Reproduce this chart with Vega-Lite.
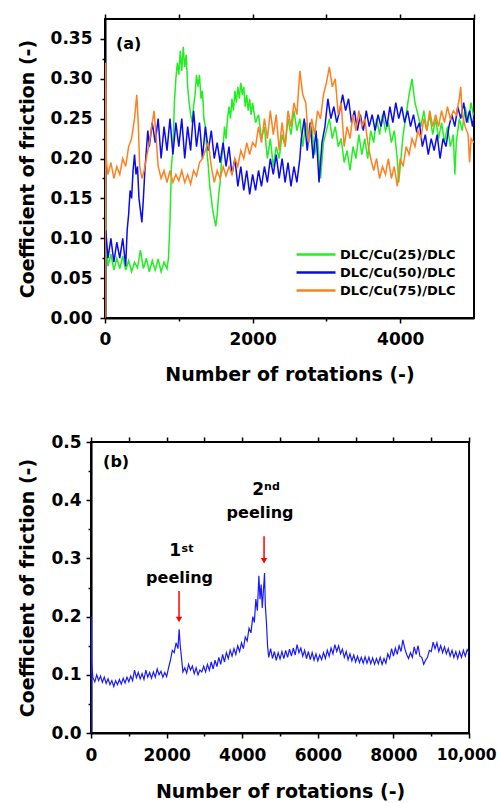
{
"$schema": "https://vega.github.io/schema/vega-lite/v6.json",
"padding": {"left": 17, "top": 12, "right": 0, "bottom": 0},
"config": {
 "font": "DejaVu Sans",
 "view": {"stroke": "#000", "strokeWidth": 2},
 "axis": {"grid": false, "domainColor": "#000", "domainWidth": 2, "tickColor": "#000", "tickWidth": 1.5, "labelColor": "#000", "titleColor": "#000", "labelFont": "DejaVu Sans", "titleFont": "DejaVu Sans", "labelFontSize": 17, "labelFontWeight": "bold", "titleFontSize": 19, "titleFontWeight": "bold", "labelFlush": false, "labelOverlap": false, "labelBound": false}
},
"datasets": {
 "a": [
{"s":"25","x":0,"y":0.23},{"s":"25","x":10,"y":0.1},{"s":"25","x":40,"y":0.065},{"s":"25","x":80,"y":0.08},{"s":"25","x":120,"y":0.06},{"s":"25","x":160,"y":0.075},{"s":"25","x":200,"y":0.062},{"s":"25","x":240,"y":0.078},{"s":"25","x":280,"y":0.06},{"s":"25","x":320,"y":0.072},{"s":"25","x":360,"y":0.058},{"s":"25","x":400,"y":0.07},{"s":"25","x":440,"y":0.063},{"s":"25","x":480,"y":0.085},{"s":"25","x":520,"y":0.062},{"s":"25","x":560,"y":0.075},{"s":"25","x":600,"y":0.058},{"s":"25","x":640,"y":0.072},{"s":"25","x":680,"y":0.06},{"s":"25","x":720,"y":0.074},{"s":"25","x":760,"y":0.058},{"s":"25","x":800,"y":0.07},{"s":"25","x":840,"y":0.062},{"s":"25","x":860,"y":0.075},{"s":"25","x":880,"y":0.12},{"s":"25","x":900,"y":0.19},{"s":"25","x":920,"y":0.21},{"s":"25","x":940,"y":0.27},{"s":"25","x":960,"y":0.3},{"s":"25","x":980,"y":0.32},{"s":"25","x":1000,"y":0.305},{"s":"25","x":1020,"y":0.335},{"s":"25","x":1040,"y":0.31},{"s":"25","x":1060,"y":0.34},{"s":"25","x":1080,"y":0.315},{"s":"25","x":1100,"y":0.33},{"s":"25","x":1120,"y":0.29},{"s":"25","x":1140,"y":0.27},{"s":"25","x":1160,"y":0.255},{"s":"25","x":1180,"y":0.245},{"s":"25","x":1200,"y":0.265},{"s":"25","x":1220,"y":0.28},{"s":"25","x":1240,"y":0.305},{"s":"25","x":1260,"y":0.29},{"s":"25","x":1280,"y":0.305},{"s":"25","x":1300,"y":0.275},{"s":"25","x":1320,"y":0.285},{"s":"25","x":1340,"y":0.25},{"s":"25","x":1360,"y":0.24},{"s":"25","x":1380,"y":0.21},{"s":"25","x":1400,"y":0.19},{"s":"25","x":1420,"y":0.165},{"s":"25","x":1440,"y":0.15},{"s":"25","x":1460,"y":0.135},{"s":"25","x":1480,"y":0.125},{"s":"25","x":1500,"y":0.115},{"s":"25","x":1520,"y":0.13},{"s":"25","x":1540,"y":0.155},{"s":"25","x":1560,"y":0.17},{"s":"25","x":1580,"y":0.2},{"s":"25","x":1600,"y":0.215},{"s":"25","x":1620,"y":0.24},{"s":"25","x":1640,"y":0.225},{"s":"25","x":1660,"y":0.25},{"s":"25","x":1680,"y":0.265},{"s":"25","x":1700,"y":0.25},{"s":"25","x":1720,"y":0.275},{"s":"25","x":1740,"y":0.26},{"s":"25","x":1760,"y":0.285},{"s":"25","x":1780,"y":0.27},{"s":"25","x":1800,"y":0.29},{"s":"25","x":1820,"y":0.275},{"s":"25","x":1840,"y":0.295},{"s":"25","x":1860,"y":0.28},{"s":"25","x":1880,"y":0.29},{"s":"25","x":1900,"y":0.265},{"s":"25","x":1920,"y":0.28},{"s":"25","x":1940,"y":0.26},{"s":"25","x":1960,"y":0.275},{"s":"25","x":1980,"y":0.255},{"s":"25","x":2000,"y":0.27},{"s":"25","x":2040,"y":0.245},{"s":"25","x":2080,"y":0.255},{"s":"25","x":2120,"y":0.225},{"s":"25","x":2160,"y":0.24},{"s":"25","x":2200,"y":0.2},{"s":"25","x":2240,"y":0.225},{"s":"25","x":2280,"y":0.19},{"s":"25","x":2320,"y":0.215},{"s":"25","x":2360,"y":0.2},{"s":"25","x":2400,"y":0.23},{"s":"25","x":2440,"y":0.215},{"s":"25","x":2480,"y":0.25},{"s":"25","x":2520,"y":0.23},{"s":"25","x":2560,"y":0.26},{"s":"25","x":2600,"y":0.235},{"s":"25","x":2640,"y":0.25},{"s":"25","x":2680,"y":0.215},{"s":"25","x":2720,"y":0.245},{"s":"25","x":2760,"y":0.22},{"s":"25","x":2800,"y":0.24},{"s":"25","x":2840,"y":0.205},{"s":"25","x":2880,"y":0.225},{"s":"25","x":2920,"y":0.175},{"s":"25","x":2960,"y":0.22},{"s":"25","x":3000,"y":0.235},{"s":"25","x":3040,"y":0.25},{"s":"25","x":3080,"y":0.225},{"s":"25","x":3120,"y":0.24},{"s":"25","x":3160,"y":0.215},{"s":"25","x":3200,"y":0.225},{"s":"25","x":3240,"y":0.195},{"s":"25","x":3280,"y":0.21},{"s":"25","x":3320,"y":0.185},{"s":"25","x":3360,"y":0.215},{"s":"25","x":3400,"y":0.2},{"s":"25","x":3440,"y":0.23},{"s":"25","x":3480,"y":0.205},{"s":"25","x":3520,"y":0.225},{"s":"25","x":3560,"y":0.2},{"s":"25","x":3600,"y":0.235},{"s":"25","x":3640,"y":0.22},{"s":"25","x":3680,"y":0.25},{"s":"25","x":3720,"y":0.23},{"s":"25","x":3760,"y":0.255},{"s":"25","x":3800,"y":0.235},{"s":"25","x":3840,"y":0.245},{"s":"25","x":3880,"y":0.22},{"s":"25","x":3920,"y":0.235},{"s":"25","x":3960,"y":0.2},{"s":"25","x":3980,"y":0.17},{"s":"25","x":4000,"y":0.19},{"s":"25","x":4040,"y":0.23},{"s":"25","x":4080,"y":0.255},{"s":"25","x":4120,"y":0.28},{"s":"25","x":4160,"y":0.3},{"s":"25","x":4200,"y":0.27},{"s":"25","x":4240,"y":0.255},{"s":"25","x":4280,"y":0.24},{"s":"25","x":4320,"y":0.26},{"s":"25","x":4360,"y":0.235},{"s":"25","x":4400,"y":0.255},{"s":"25","x":4440,"y":0.23},{"s":"25","x":4480,"y":0.25},{"s":"25","x":4520,"y":0.225},{"s":"25","x":4560,"y":0.245},{"s":"25","x":4600,"y":0.22},{"s":"25","x":4640,"y":0.24},{"s":"25","x":4680,"y":0.215},{"s":"25","x":4720,"y":0.23},{"s":"25","x":4740,"y":0.18},{"s":"25","x":4760,"y":0.22},{"s":"25","x":4800,"y":0.25},{"s":"25","x":4840,"y":0.235},{"s":"25","x":4880,"y":0.265},{"s":"25","x":4920,"y":0.245},{"s":"25","x":4960,"y":0.27},{"s":"25","x":5000,"y":0.25},
{"s":"50","x":0,"y":0.06},{"s":"50","x":10,"y":0.11},{"s":"50","x":40,"y":0.075},{"s":"50","x":80,"y":0.1},{"s":"50","x":120,"y":0.07},{"s":"50","x":160,"y":0.095},{"s":"50","x":200,"y":0.075},{"s":"50","x":240,"y":0.1},{"s":"50","x":280,"y":0.065},{"s":"50","x":300,"y":0.11},{"s":"50","x":320,"y":0.13},{"s":"50","x":340,"y":0.16},{"s":"50","x":360,"y":0.15},{"s":"50","x":380,"y":0.185},{"s":"50","x":400,"y":0.205},{"s":"50","x":420,"y":0.18},{"s":"50","x":440,"y":0.19},{"s":"50","x":460,"y":0.15},{"s":"50","x":480,"y":0.135},{"s":"50","x":500,"y":0.12},{"s":"50","x":520,"y":0.15},{"s":"50","x":540,"y":0.185},{"s":"50","x":560,"y":0.21},{"s":"50","x":580,"y":0.235},{"s":"50","x":600,"y":0.215},{"s":"50","x":640,"y":0.245},{"s":"50","x":680,"y":0.22},{"s":"50","x":720,"y":0.25},{"s":"50","x":760,"y":0.2},{"s":"50","x":800,"y":0.24},{"s":"50","x":840,"y":0.21},{"s":"50","x":880,"y":0.25},{"s":"50","x":920,"y":0.205},{"s":"50","x":960,"y":0.245},{"s":"50","x":1000,"y":0.215},{"s":"50","x":1040,"y":0.25},{"s":"50","x":1080,"y":0.2},{"s":"50","x":1120,"y":0.24},{"s":"50","x":1160,"y":0.21},{"s":"50","x":1200,"y":0.26},{"s":"50","x":1240,"y":0.215},{"s":"50","x":1280,"y":0.245},{"s":"50","x":1320,"y":0.2},{"s":"50","x":1360,"y":0.24},{"s":"50","x":1400,"y":0.21},{"s":"50","x":1440,"y":0.235},{"s":"50","x":1480,"y":0.2},{"s":"50","x":1520,"y":0.22},{"s":"50","x":1560,"y":0.195},{"s":"50","x":1600,"y":0.22},{"s":"50","x":1640,"y":0.19},{"s":"50","x":1680,"y":0.215},{"s":"50","x":1720,"y":0.18},{"s":"50","x":1760,"y":0.2},{"s":"50","x":1800,"y":0.165},{"s":"50","x":1840,"y":0.19},{"s":"50","x":1880,"y":0.16},{"s":"50","x":1920,"y":0.185},{"s":"50","x":1960,"y":0.155},{"s":"50","x":2000,"y":0.18},{"s":"50","x":2040,"y":0.16},{"s":"50","x":2080,"y":0.185},{"s":"50","x":2120,"y":0.165},{"s":"50","x":2160,"y":0.19},{"s":"50","x":2200,"y":0.17},{"s":"50","x":2240,"y":0.2},{"s":"50","x":2280,"y":0.18},{"s":"50","x":2320,"y":0.205},{"s":"50","x":2360,"y":0.175},{"s":"50","x":2400,"y":0.2},{"s":"50","x":2440,"y":0.17},{"s":"50","x":2480,"y":0.195},{"s":"50","x":2520,"y":0.165},{"s":"50","x":2560,"y":0.19},{"s":"50","x":2600,"y":0.17},{"s":"50","x":2640,"y":0.2},{"s":"50","x":2660,"y":0.225},{"s":"50","x":2700,"y":0.25},{"s":"50","x":2740,"y":0.21},{"s":"50","x":2780,"y":0.245},{"s":"50","x":2820,"y":0.2},{"s":"50","x":2860,"y":0.235},{"s":"50","x":2900,"y":0.17},{"s":"50","x":2940,"y":0.22},{"s":"50","x":2980,"y":0.24},{"s":"50","x":3020,"y":0.275},{"s":"50","x":3060,"y":0.25},{"s":"50","x":3100,"y":0.265},{"s":"50","x":3140,"y":0.245},{"s":"50","x":3180,"y":0.26},{"s":"50","x":3220,"y":0.28},{"s":"50","x":3260,"y":0.26},{"s":"50","x":3300,"y":0.275},{"s":"50","x":3340,"y":0.245},{"s":"50","x":3380,"y":0.26},{"s":"50","x":3420,"y":0.235},{"s":"50","x":3460,"y":0.255},{"s":"50","x":3500,"y":0.235},{"s":"50","x":3540,"y":0.26},{"s":"50","x":3580,"y":0.24},{"s":"50","x":3620,"y":0.255},{"s":"50","x":3660,"y":0.235},{"s":"50","x":3700,"y":0.255},{"s":"50","x":3740,"y":0.24},{"s":"50","x":3780,"y":0.26},{"s":"50","x":3820,"y":0.24},{"s":"50","x":3860,"y":0.265},{"s":"50","x":3900,"y":0.245},{"s":"50","x":3940,"y":0.27},{"s":"50","x":3980,"y":0.25},{"s":"50","x":4020,"y":0.265},{"s":"50","x":4060,"y":0.245},{"s":"50","x":4100,"y":0.26},{"s":"50","x":4140,"y":0.24},{"s":"50","x":4180,"y":0.255},{"s":"50","x":4220,"y":0.235},{"s":"50","x":4260,"y":0.245},{"s":"50","x":4300,"y":0.215},{"s":"50","x":4340,"y":0.23},{"s":"50","x":4380,"y":0.205},{"s":"50","x":4420,"y":0.225},{"s":"50","x":4460,"y":0.21},{"s":"50","x":4500,"y":0.23},{"s":"50","x":4540,"y":0.2},{"s":"50","x":4580,"y":0.225},{"s":"50","x":4620,"y":0.215},{"s":"50","x":4660,"y":0.24},{"s":"50","x":4700,"y":0.255},{"s":"50","x":4740,"y":0.24},{"s":"50","x":4780,"y":0.265},{"s":"50","x":4820,"y":0.25},{"s":"50","x":4860,"y":0.27},{"s":"50","x":4900,"y":0.245},{"s":"50","x":4940,"y":0.26},{"s":"50","x":4980,"y":0.24},{"s":"50","x":5000,"y":0.255},
{"s":"75","x":0,"y":0.0},{"s":"75","x":5,"y":0.32},{"s":"75","x":15,"y":0.2},{"s":"75","x":40,"y":0.18},{"s":"75","x":80,"y":0.195},{"s":"75","x":120,"y":0.175},{"s":"75","x":160,"y":0.19},{"s":"75","x":200,"y":0.18},{"s":"75","x":240,"y":0.2},{"s":"75","x":280,"y":0.19},{"s":"75","x":320,"y":0.215},{"s":"75","x":360,"y":0.225},{"s":"75","x":400,"y":0.25},{"s":"75","x":430,"y":0.28},{"s":"75","x":450,"y":0.245},{"s":"75","x":470,"y":0.19},{"s":"75","x":500,"y":0.175},{"s":"75","x":530,"y":0.185},{"s":"75","x":560,"y":0.2},{"s":"75","x":600,"y":0.22},{"s":"75","x":640,"y":0.245},{"s":"75","x":665,"y":0.26},{"s":"75","x":690,"y":0.23},{"s":"75","x":720,"y":0.19},{"s":"75","x":760,"y":0.175},{"s":"75","x":800,"y":0.185},{"s":"75","x":840,"y":0.17},{"s":"75","x":880,"y":0.185},{"s":"75","x":920,"y":0.17},{"s":"75","x":960,"y":0.18},{"s":"75","x":1000,"y":0.172},{"s":"75","x":1040,"y":0.185},{"s":"75","x":1080,"y":0.17},{"s":"75","x":1120,"y":0.18},{"s":"75","x":1160,"y":0.168},{"s":"75","x":1200,"y":0.185},{"s":"75","x":1240,"y":0.178},{"s":"75","x":1280,"y":0.195},{"s":"75","x":1320,"y":0.2},{"s":"75","x":1360,"y":0.21},{"s":"75","x":1400,"y":0.22},{"s":"75","x":1440,"y":0.19},{"s":"75","x":1480,"y":0.17},{"s":"75","x":1520,"y":0.185},{"s":"75","x":1560,"y":0.175},{"s":"75","x":1600,"y":0.19},{"s":"75","x":1640,"y":0.178},{"s":"75","x":1680,"y":0.19},{"s":"75","x":1720,"y":0.18},{"s":"75","x":1760,"y":0.2},{"s":"75","x":1800,"y":0.19},{"s":"75","x":1840,"y":0.21},{"s":"75","x":1880,"y":0.2},{"s":"75","x":1920,"y":0.22},{"s":"75","x":1960,"y":0.205},{"s":"75","x":2000,"y":0.22},{"s":"75","x":2040,"y":0.215},{"s":"75","x":2080,"y":0.24},{"s":"75","x":2120,"y":0.22},{"s":"75","x":2160,"y":0.25},{"s":"75","x":2200,"y":0.225},{"s":"75","x":2240,"y":0.26},{"s":"75","x":2280,"y":0.23},{"s":"75","x":2320,"y":0.255},{"s":"75","x":2360,"y":0.21},{"s":"75","x":2400,"y":0.245},{"s":"75","x":2440,"y":0.215},{"s":"75","x":2480,"y":0.26},{"s":"75","x":2520,"y":0.24},{"s":"75","x":2560,"y":0.27},{"s":"75","x":2600,"y":0.255},{"s":"75","x":2640,"y":0.31},{"s":"75","x":2680,"y":0.28},{"s":"75","x":2720,"y":0.27},{"s":"75","x":2760,"y":0.22},{"s":"75","x":2800,"y":0.25},{"s":"75","x":2840,"y":0.23},{"s":"75","x":2880,"y":0.26},{"s":"75","x":2920,"y":0.25},{"s":"75","x":2960,"y":0.28},{"s":"75","x":3000,"y":0.295},{"s":"75","x":3040,"y":0.315},{"s":"75","x":3080,"y":0.29},{"s":"75","x":3120,"y":0.3},{"s":"75","x":3160,"y":0.255},{"s":"75","x":3200,"y":0.27},{"s":"75","x":3240,"y":0.215},{"s":"75","x":3280,"y":0.24},{"s":"75","x":3320,"y":0.225},{"s":"75","x":3360,"y":0.255},{"s":"75","x":3400,"y":0.235},{"s":"75","x":3440,"y":0.26},{"s":"75","x":3480,"y":0.24},{"s":"75","x":3520,"y":0.25},{"s":"75","x":3560,"y":0.22},{"s":"75","x":3600,"y":0.2},{"s":"75","x":3640,"y":0.185},{"s":"75","x":3680,"y":0.2},{"s":"75","x":3720,"y":0.175},{"s":"75","x":3760,"y":0.19},{"s":"75","x":3800,"y":0.18},{"s":"75","x":3840,"y":0.2},{"s":"75","x":3880,"y":0.175},{"s":"75","x":3920,"y":0.19},{"s":"75","x":3960,"y":0.165},{"s":"75","x":4000,"y":0.2},{"s":"75","x":4040,"y":0.19},{"s":"75","x":4080,"y":0.215},{"s":"75","x":4120,"y":0.205},{"s":"75","x":4160,"y":0.225},{"s":"75","x":4200,"y":0.215},{"s":"75","x":4240,"y":0.235},{"s":"75","x":4280,"y":0.225},{"s":"75","x":4320,"y":0.25},{"s":"75","x":4360,"y":0.235},{"s":"75","x":4400,"y":0.26},{"s":"75","x":4440,"y":0.24},{"s":"75","x":4480,"y":0.255},{"s":"75","x":4520,"y":0.24},{"s":"75","x":4560,"y":0.26},{"s":"75","x":4600,"y":0.245},{"s":"75","x":4640,"y":0.265},{"s":"75","x":4680,"y":0.25},{"s":"75","x":4720,"y":0.26},{"s":"75","x":4760,"y":0.255},{"s":"75","x":4800,"y":0.275},{"s":"75","x":4820,"y":0.29},{"s":"75","x":4840,"y":0.255},{"s":"75","x":4880,"y":0.24},{"s":"75","x":4920,"y":0.23},{"s":"75","x":4940,"y":0.195},{"s":"75","x":4960,"y":0.225},{"s":"75","x":5000,"y":0.22}
 ],
 "b": [
{"x":0,"y":0.0},{"x":5,"y":0.2},{"x":15,"y":0.12},{"x":50,"y":0.095},{"x":100,"y":0.088},{"x":150,"y":0.1},{"x":200,"y":0.09},{"x":250,"y":0.098},{"x":300,"y":0.087},{"x":350,"y":0.096},{"x":400,"y":0.085},{"x":450,"y":0.093},{"x":500,"y":0.083},{"x":550,"y":0.09},{"x":600,"y":0.08},{"x":650,"y":0.09},{"x":700,"y":0.083},{"x":750,"y":0.092},{"x":800,"y":0.084},{"x":850,"y":0.094},{"x":900,"y":0.086},{"x":950,"y":0.096},{"x":1000,"y":0.088},{"x":1050,"y":0.098},{"x":1100,"y":0.09},{"x":1150,"y":0.108},{"x":1200,"y":0.095},{"x":1250,"y":0.104},{"x":1300,"y":0.093},{"x":1350,"y":0.102},{"x":1400,"y":0.092},{"x":1450,"y":0.108},{"x":1500,"y":0.096},{"x":1550,"y":0.104},{"x":1600,"y":0.094},{"x":1650,"y":0.105},{"x":1700,"y":0.096},{"x":1750,"y":0.11},{"x":1800,"y":0.1},{"x":1850,"y":0.106},{"x":1900,"y":0.096},{"x":1950,"y":0.104},{"x":2000,"y":0.097},{"x":2050,"y":0.112},{"x":2100,"y":0.125},{"x":2150,"y":0.142},{"x":2200,"y":0.138},{"x":2250,"y":0.155},{"x":2300,"y":0.145},{"x":2330,"y":0.178},{"x":2360,"y":0.15},{"x":2400,"y":0.125},{"x":2430,"y":0.105},{"x":2480,"y":0.112},{"x":2530,"y":0.103},{"x":2580,"y":0.118},{"x":2630,"y":0.108},{"x":2680,"y":0.115},{"x":2730,"y":0.102},{"x":2780,"y":0.112},{"x":2830,"y":0.1},{"x":2880,"y":0.108},{"x":2930,"y":0.105},{"x":2980,"y":0.115},{"x":3030,"y":0.105},{"x":3080,"y":0.118},{"x":3130,"y":0.108},{"x":3180,"y":0.122},{"x":3230,"y":0.11},{"x":3280,"y":0.125},{"x":3330,"y":0.114},{"x":3380,"y":0.13},{"x":3430,"y":0.118},{"x":3480,"y":0.135},{"x":3530,"y":0.122},{"x":3580,"y":0.138},{"x":3630,"y":0.128},{"x":3680,"y":0.142},{"x":3730,"y":0.132},{"x":3780,"y":0.145},{"x":3830,"y":0.135},{"x":3880,"y":0.15},{"x":3930,"y":0.14},{"x":3980,"y":0.155},{"x":4030,"y":0.145},{"x":4080,"y":0.165},{"x":4130,"y":0.158},{"x":4180,"y":0.18},{"x":4230,"y":0.172},{"x":4280,"y":0.2},{"x":4320,"y":0.19},{"x":4360,"y":0.23},{"x":4400,"y":0.21},{"x":4440,"y":0.27},{"x":4470,"y":0.23},{"x":4500,"y":0.255},{"x":4530,"y":0.215},{"x":4560,"y":0.245},{"x":4590,"y":0.275},{"x":4610,"y":0.22},{"x":4640,"y":0.19},{"x":4670,"y":0.15},{"x":4700,"y":0.13},{"x":4750,"y":0.145},{"x":4800,"y":0.128},{"x":4850,"y":0.14},{"x":4900,"y":0.125},{"x":4950,"y":0.138},{"x":5000,"y":0.127},{"x":5050,"y":0.14},{"x":5100,"y":0.128},{"x":5150,"y":0.142},{"x":5200,"y":0.13},{"x":5250,"y":0.144},{"x":5300,"y":0.132},{"x":5350,"y":0.146},{"x":5400,"y":0.134},{"x":5450,"y":0.152},{"x":5500,"y":0.138},{"x":5550,"y":0.146},{"x":5600,"y":0.132},{"x":5650,"y":0.142},{"x":5700,"y":0.128},{"x":5750,"y":0.14},{"x":5800,"y":0.126},{"x":5850,"y":0.138},{"x":5900,"y":0.125},{"x":5950,"y":0.136},{"x":6000,"y":0.124},{"x":6050,"y":0.134},{"x":6100,"y":0.126},{"x":6150,"y":0.138},{"x":6200,"y":0.128},{"x":6250,"y":0.142},{"x":6300,"y":0.132},{"x":6350,"y":0.146},{"x":6400,"y":0.136},{"x":6450,"y":0.152},{"x":6500,"y":0.14},{"x":6550,"y":0.15},{"x":6600,"y":0.136},{"x":6650,"y":0.144},{"x":6700,"y":0.13},{"x":6750,"y":0.14},{"x":6800,"y":0.126},{"x":6850,"y":0.136},{"x":6900,"y":0.124},{"x":6950,"y":0.134},{"x":7000,"y":0.122},{"x":7050,"y":0.132},{"x":7100,"y":0.121},{"x":7150,"y":0.13},{"x":7200,"y":0.12},{"x":7250,"y":0.131},{"x":7300,"y":0.12},{"x":7350,"y":0.13},{"x":7400,"y":0.119},{"x":7450,"y":0.129},{"x":7500,"y":0.118},{"x":7550,"y":0.128},{"x":7600,"y":0.119},{"x":7650,"y":0.13},{"x":7700,"y":0.118},{"x":7750,"y":0.128},{"x":7800,"y":0.12},{"x":7850,"y":0.136},{"x":7900,"y":0.128},{"x":7950,"y":0.145},{"x":8000,"y":0.132},{"x":8050,"y":0.146},{"x":8100,"y":0.135},{"x":8150,"y":0.15},{"x":8200,"y":0.14},{"x":8250,"y":0.16},{"x":8300,"y":0.145},{"x":8350,"y":0.135},{"x":8400,"y":0.128},{"x":8450,"y":0.138},{"x":8500,"y":0.13},{"x":8550,"y":0.148},{"x":8600,"y":0.135},{"x":8650,"y":0.15},{"x":8700,"y":0.132},{"x":8750,"y":0.13},{"x":8800,"y":0.118},{"x":8850,"y":0.125},{"x":8900,"y":0.13},{"x":8950,"y":0.142},{"x":9000,"y":0.14},{"x":9050,"y":0.156},{"x":9100,"y":0.145},{"x":9150,"y":0.155},{"x":9200,"y":0.14},{"x":9250,"y":0.15},{"x":9300,"y":0.138},{"x":9350,"y":0.148},{"x":9400,"y":0.136},{"x":9450,"y":0.145},{"x":9500,"y":0.132},{"x":9550,"y":0.142},{"x":9600,"y":0.13},{"x":9650,"y":0.14},{"x":9700,"y":0.128},{"x":9750,"y":0.14},{"x":9800,"y":0.13},{"x":9850,"y":0.142},{"x":9900,"y":0.132},{"x":9950,"y":0.143},{"x":10000,"y":0.138}
 ],
 "labA": [{"x":149,"y":0.344,"t":"(a)"}],
 "padA": [{"x":5000,"y":0.2}],
 "labB": [{"x":318,"y":0.465,"t":"(b)"}],
 "ann": [{"x":2223,"y":0.313,"t":"1","f":17},{"x":2342,"y":0.266,"t":"peeling","f":16},{"x":4419,"y":0.418,"t":"2","f":17},{"x":4472,"y":0.378,"t":"peeling","f":16}],
 "sup": [{"x":2395,"y":0.317,"t":"st"},{"x":4577,"y":0.423,"t":"nd"}],
 "arr": [{"x":2328,"y1":0.244,"y2":0.195},{"x":4577,"y1":0.338,"y2":0.296}]
},
"resolve": {"scale": {"color": "independent"}, "legend": {"color": "independent"}},
"columns": 1,
"align": "all",
"center": true,
"spacing": 47,
"concat": [
 {
  "width": 369, "height": 299,
  "layer": [
   {
    "data": {"name": "a"},
    "mark": {"type": "line", "strokeWidth": 1.5, "clip": true},
    "encoding": {
     "x": {"field": "x", "type": "quantitative", "scale": {"domain": [0, 5000], "nice": false},
           "axis": {"orient": "bottom", "values": [0, 2000, 4000], "format": "d", "tickSize": 5, "labelPadding": 8, "title": "Number of rotations (-)", "titlePadding": 18}},
     "y": {"field": "y", "type": "quantitative", "scale": {"domain": [0, 0.375], "nice": false},
           "axis": {"orient": "left", "values": [0, 0.05, 0.1, 0.15, 0.2, 0.25, 0.3, 0.35], "format": ".2f", "tickSize": 5, "labelPadding": 8, "title": "Coefficient of friction (-)", "titlePadding": 13}},
     "color": {"field": "s", "type": "nominal",
           "scale": {"domain": ["25", "50", "75"], "range": ["#22ee22", "#0b0bf0", "#ff8020"]},
           "legend": {"orient": "none", "legendX": 203, "legendY": 227.5, "title": null, "symbolType": "M -3 0 H 3", "symbolSize": 169, "symbolStrokeWidth": 2.5, "labelFontSize": 13, "labelFont": "DejaVu Sans", "labelFontWeight": "bold", "labelColor": "#000", "labelOffset": 16, "rowPadding": 3, "padding": 0,
                      "labelExpr": "'DLC/Cu(' + datum.label + ')/DLC'"}}
    }
   },
   {
    "data": {"name": "labA"},
    "mark": {"type": "text", "align": "left", "baseline": "middle", "fontSize": 16, "fontWeight": "bold", "color": "#000"},
    "encoding": {
     "x": {"field": "x", "type": "quantitative", "scale": {"domain": [0, 5000], "nice": false},
           "axis": {"orient": "bottom", "values": [1000, 3000], "labels": false, "domain": false, "tickSize": 3, "title": null}},
     "y": {"field": "y", "type": "quantitative", "scale": {"domain": [0, 0.375], "nice": false},
           "axis": {"orient": "left", "values": [0.025, 0.075, 0.125, 0.175, 0.225, 0.275, 0.325], "labels": false, "domain": false, "tickSize": 3, "title": null}},
     "text": {"field": "t"}
    }
   },
   {
    "data": {"name": "labA"},
    "mark": {"type": "point", "opacity": 0},
    "encoding": {
     "x": {"field": "x", "type": "quantitative", "scale": {"domain": [0, 5000], "nice": false},
           "axis": {"orient": "top", "values": [0, 1000, 2000, 3000, 4000, 5000], "labels": false, "domain": false, "tickSize": 5, "title": null}},
     "y": {"field": "y", "type": "quantitative", "scale": {"domain": [0, 0.375], "nice": false}, "axis": null}
    }
   },
   {
    "data": {"name": "padA"},
    "mark": {"type": "point", "opacity": 0, "size": 254, "filled": true},
    "encoding": {
     "x": {"field": "x", "type": "quantitative", "scale": {"domain": [0, 5000], "nice": false}, "axis": null},
     "y": {"field": "y", "type": "quantitative", "scale": {"domain": [0, 0.375], "nice": false}, "axis": null}
    }
   }
  ],
  "resolve": {"axis": {"x": "independent", "y": "independent"}}
 },
 {
  "width": 378, "height": 291,
  "layer": [
   {
    "data": {"name": "b"},
    "mark": {"type": "line", "strokeWidth": 1.2, "color": "#1a1aff", "clip": true},
    "encoding": {
     "x": {"field": "x", "type": "quantitative", "scale": {"domain": [0, 10000], "nice": false},
           "axis": {"orient": "bottom", "values": [0, 2000, 4000, 6000, 8000, 10000], "labelExpr": "datum.value == 10000 ? '10,000' : '' + datum.value",
                    "labelFontSize": {"condition": {"test": "datum.value == 10000", "value": 15.5}, "value": 17},
                    "labelOffset": {"condition": {"test": "datum.value == 10000", "value": -3}, "value": 0},
                    "tickSize": 5, "labelPadding": 9, "title": "Number of rotations (-)", "titlePadding": 19}},
     "y": {"field": "y", "type": "quantitative", "scale": {"domain": [0, 0.5], "nice": false},
           "axis": {"orient": "left", "values": [0, 0.1, 0.2, 0.3, 0.4, 0.5], "format": ".1f", "tickSize": 5, "labelPadding": 5, "title": "Coefficient of friction (-)", "titlePadding": 13}}
    }
   },
   {
    "data": {"name": "labB"},
    "mark": {"type": "text", "align": "left", "baseline": "middle", "fontSize": 16, "fontWeight": "bold", "color": "#000"},
    "encoding": {
     "x": {"field": "x", "type": "quantitative", "scale": {"domain": [0, 10000], "nice": false},
           "axis": {"orient": "bottom", "values": [1000, 3000, 5000, 7000, 9000], "labels": false, "domain": false, "tickSize": 3, "title": null}},
     "y": {"field": "y", "type": "quantitative", "scale": {"domain": [0, 0.5], "nice": false},
           "axis": {"orient": "left", "values": [0.05, 0.15, 0.25, 0.35, 0.45], "labels": false, "domain": false, "tickSize": 3, "title": null}},
     "text": {"field": "t"}
    }
   },
   {
    "data": {"name": "labB"},
    "mark": {"type": "point", "opacity": 0},
    "encoding": {
     "x": {"field": "x", "type": "quantitative", "scale": {"domain": [0, 10000], "nice": false},
           "axis": {"orient": "top", "values": [0, 1000, 2000, 3000, 4000, 5000, 6000, 7000, 8000, 9000, 10000], "labels": false, "domain": false, "tickSize": 5, "title": null}},
     "y": {"field": "y", "type": "quantitative", "scale": {"domain": [0, 0.5], "nice": false}, "axis": null}
    }
   },
   {
    "data": {"name": "ann"},
    "mark": {"type": "text", "align": "center", "baseline": "middle", "fontWeight": "bold", "color": "#000"},
    "encoding": {
     "x": {"field": "x", "type": "quantitative", "scale": {"domain": [0, 10000], "nice": false}, "axis": null},
     "y": {"field": "y", "type": "quantitative", "scale": {"domain": [0, 0.5], "nice": false}, "axis": null},
     "text": {"field": "t"},
     "size": {"field": "f", "type": "quantitative", "scale": null, "legend": null}
    }
   },
   {
    "data": {"name": "sup"},
    "mark": {"type": "text", "align": "left", "baseline": "middle", "fontSize": 11, "fontWeight": "bold", "color": "#000"},
    "encoding": {
     "x": {"field": "x", "type": "quantitative", "scale": {"domain": [0, 10000], "nice": false}, "axis": null},
     "y": {"field": "y", "type": "quantitative", "scale": {"domain": [0, 0.5], "nice": false}, "axis": null},
     "text": {"field": "t"}
    }
   },
   {
    "data": {"name": "arr"},
    "mark": {"type": "rule", "color": "#ff0000", "strokeWidth": 1.5},
    "encoding": {
     "x": {"field": "x", "type": "quantitative", "scale": {"domain": [0, 10000], "nice": false}, "axis": null},
     "y": {"field": "y1", "type": "quantitative", "scale": {"domain": [0, 0.5], "nice": false}, "axis": null},
     "y2": {"field": "y2"}
    }
   },
   {
    "data": {"name": "arr"},
    "mark": {"type": "point", "shape": "triangle-down", "filled": true, "size": 40, "color": "#ff0000", "opacity": 1},
    "encoding": {
     "x": {"field": "x", "type": "quantitative", "scale": {"domain": [0, 10000], "nice": false}, "axis": null},
     "y": {"field": "y2", "type": "quantitative", "scale": {"domain": [0, 0.5], "nice": false}, "axis": null}
    }
   }
  ],
  "resolve": {"axis": {"x": "independent", "y": "independent"}}
 }
]
}
